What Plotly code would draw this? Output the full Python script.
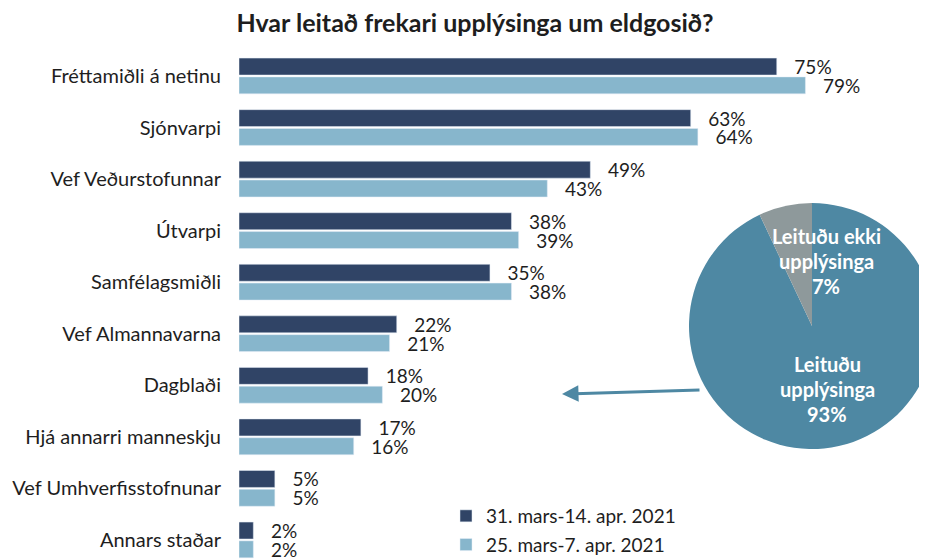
import plotly.graph_objects as go

categories = ["Fréttamiðli á netinu", "Sjónvarpi", "Vef Veðurstofunnar", "Útvarpi",
              "Samfélagsmiðli", "Vef Almannavarna", "Dagblaði", "Hjá annarri manneskju",
              "Vef Umhverfisstofnunar", "Annars staðar"]
series_a_name = "31. mars-14. apr. 2021"
series_b_name = "25. mars-7. apr. 2021"
series_a = [75, 63, 49, 38, 35, 22, 18, 17, 5, 2]
series_b = [79, 64, 43, 39, 38, 21, 20, 16, 5, 2]

pie_labels = ["Leituðu upplýsinga", "Leituðu ekki upplýsinga"]
pie_values = [93, 7]

FONT = "Lato"
DARK = "#304466"
LIGHT = "#87B6CC"
PIE_BLUE = "#4E88A3"
PIE_GRAY = "#8E999B"
TXT = "#1e1e1e"
pad = "\u00a0\u00a0\u00a0"

# The page body adds an 8px offset; screen coordinates are mapped accordingly.
OFF = 8
SCREEN_BOTTOM = 559
W, H = 927, 575
L, T, B = 239 - OFF, 50 - OFF, H - (SCREEN_BOTTOM - OFF)
PW, PH = W - L, H - T - B

def px2x(sx):
    return (sx - OFF - L) / PW

def py2y(sy):
    return (SCREEN_BOTTOM - sy) / PH

fig = go.Figure()
fig.add_trace(go.Bar(
    y=categories, x=series_a, orientation="h", name=series_a_name,
    marker=dict(color=DARK), text=[pad + f"{v}%" for v in series_a],
    textposition="outside", constraintext="none", cliponaxis=False,
    textfont=dict(family=FONT, size=19, color=TXT), legendgroup="a",
))
fig.add_trace(go.Bar(
    y=categories, x=series_b, orientation="h", name=series_b_name,
    marker=dict(color=LIGHT), text=[pad + f"{v}%" for v in series_b],
    textposition="outside", constraintext="none", cliponaxis=False,
    textfont=dict(family=FONT, size=19, color=TXT), legendgroup="b",
))

cx, cy, r = 812, 326, 123
fig.add_trace(go.Pie(
    labels=pie_labels, values=pie_values, sort=False, direction="clockwise",
    rotation=0, marker=dict(colors=[PIE_BLUE, PIE_GRAY]), textinfo="none",
    hoverinfo="label+percent", showlegend=False,
    domain=dict(x=[px2x(cx - r), min(1.0, px2x(cx + r))], y=[py2y(cy + r), py2y(cy - r)]),
))

annotations = []
for i, line in enumerate(["Leituðu ekki", "upplýsinga", f"{pie_values[1]}%"]):
    annotations.append(dict(x=px2x(826), y=py2y(236 + 25 * i), xref="paper", yref="paper",
                            xanchor="center", yanchor="middle",
                            text=f"<b>{line}</b>", showarrow=False,
                            font=dict(family=FONT, size=20, color="white")))
for i, line in enumerate(["Leituðu", "upplýsinga", f"{pie_values[0]}%"]):
    annotations.append(dict(x=px2x(827), y=py2y(364 + 25 * i), xref="paper", yref="paper",
                            xanchor="center", yanchor="middle",
                            text=f"<b>{line}</b>", showarrow=False,
                            font=dict(family=FONT, size=20, color="white")))
annotations.append(dict(x=px2x(562), y=py2y(394), xref="paper", yref="paper",
                        ax=139, ay=-4, text="", showarrow=True, arrowhead=2,
                        arrowsize=1.1, arrowwidth=3, arrowcolor=PIE_BLUE))

fig.update_layout(
    width=W, height=H,
    margin=dict(l=L, r=0, t=T, b=B, pad=0),
    paper_bgcolor="white", plot_bgcolor="white",
    font=dict(family=FONT, size=19, color=TXT),
    title=dict(text="<b>Hvar leitað frekari upplýsinga um eldgosið?</b>",
               x=(475 - OFF) / W, xanchor="center", y=1 - (23 - OFF) / H, yanchor="middle",
               xref="container", yref="container",
               font=dict(family=FONT, size=25, color=TXT)),
    barmode="group", bargap=0.27, bargroupgap=0.1,
    xaxis=dict(range=[0, PW / 7.17], visible=False, fixedrange=True),
    yaxis=dict(range=[9.37, -0.504], showgrid=False, zeroline=False, showline=False,
               ticks="", ticklabelstandoff=17, tickfont=dict(family=FONT, size=20, color=TXT)),
    legend=dict(x=px2x(446), y=py2y(497), xanchor="left", yanchor="top",
                font=dict(family=FONT, size=19, color=TXT),
                tracegroupgap=1, bgcolor="rgba(0,0,0,0)"),
    annotations=annotations,
)

fig.write_html("out.html")
